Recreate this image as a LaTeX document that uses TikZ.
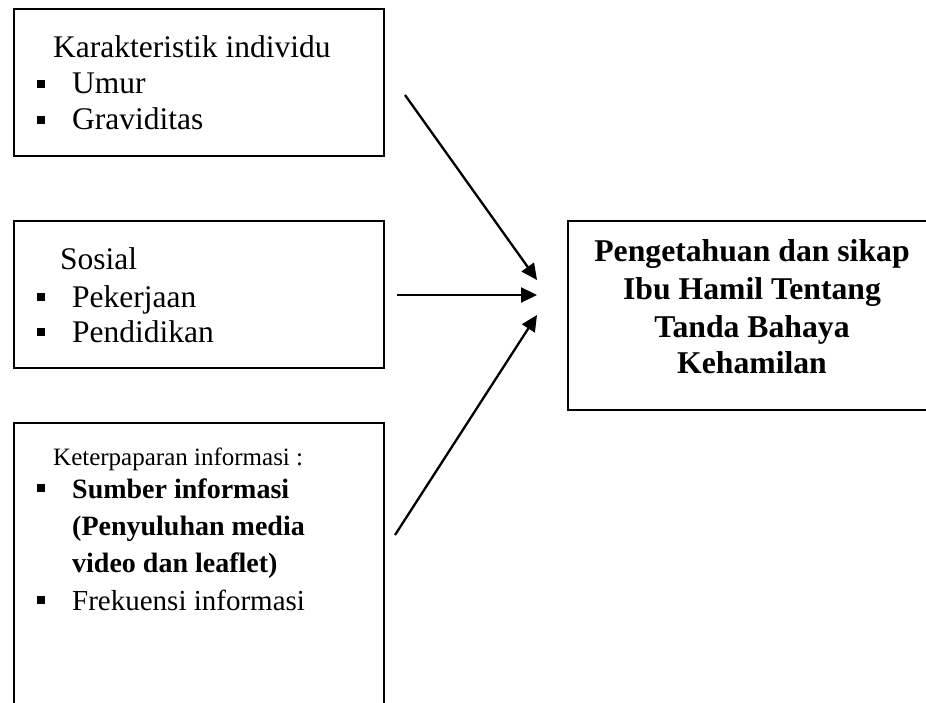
\documentclass[tikz,border=0pt]{standalone}
\usepackage{fontspec}
\setmainfont{Liberation Serif}
\usetikzlibrary{arrows.meta}
\tikzset{
  box/.style={draw=black, line width=2.3pt},
  txt/.style={anchor=base west, inner sep=0pt, font=\fontsize{31.5}{37}\selectfont},
  smalltxt/.style={anchor=base west, inner sep=0pt, font=\fontsize{25}{30}\selectfont},
  midtxt/.style={anchor=base west, inner sep=0pt, font=\fontsize{29}{35}\selectfont},
  boldtxt/.style={anchor=base west, inner sep=0pt, font=\fontsize{28}{35}\selectfont\bfseries},
  headtxt/.style={anchor=base, inner sep=0pt, font=\fontsize{31.7}{37}\selectfont\bfseries},
  bul/.style={fill=black, draw=none, minimum size=8.5pt, inner sep=0pt, rectangle},
  conn/.style={line width=2.3pt, -{Triangle[length=16pt,width=15pt]}}
}
\begin{document}
\begin{tikzpicture}[x=1pt,y=-1pt]
\useasboundingbox (0,0) rectangle (926,703);
\clip (0,0) rectangle (926,703);
% boxes
\node[box, minimum width=370pt, minimum height=147pt, anchor=north west] (b1) at (13,8) {};
\node[box, minimum width=370pt, minimum height=147pt, anchor=north west] (b2) at (13,220) {};
\node[box, minimum width=370pt, minimum height=300pt, anchor=north west] (b3) at (13,422) {};
\node[box, minimum width=373pt, minimum height=189pt, anchor=north west] (b4) at (567,220) {};
% box 1 text
\node[txt] (t1) at (53,58) {Karakteristik individu};
\node[bul] (u1) at (41,84) {};
\node[txt] (t1a) at (72,94) {Umur};
\node[bul] (u2) at (41,120) {};
\node[txt] (t1b) at (72,130) {Graviditas};
% box 2 text
\node[txt] (t2) at (60,270) {Sosial};
\node[bul] (u3) at (41,297) {};
\node[txt] (t2a) at (72,307) {Pekerjaan};
\node[bul] (u4) at (41,332) {};
\node[txt] (t2b) at (72,342) {Pendidikan};
% box 3 text
\node[smalltxt] (t3) at (53,465) {Keterpaparan informasi :};
\node[bul] (u5) at (41,488) {};
\node[boldtxt] (t3a) at (72,498) {Sumber informasi};
\node[boldtxt] (t3b) at (72,535) {(Penyuluhan media};
\node[boldtxt] (t3c) at (72,572) {video dan leaflet)};
\node[bul] (u6) at (41,600) {};
\node[midtxt] (t3d) at (72,610) {Frekuensi informasi};
% box 4 text
\node[headtxt] (h1) at (752,262) {Pengetahuan dan sikap};
\node[headtxt] (h2) at (752,300) {Ibu Hamil Tentang};
\node[headtxt] (h3) at (752,337) {Tanda Bahaya};
\node[headtxt] (h4) at (752,373) {Kehamilan};
% arrows
\coordinate (s1) at (405,95);
\coordinate (e1) at (537,280);
\coordinate (s2) at (397,295);
\coordinate (e2) at (537,295);
\coordinate (s3) at (395,535);
\coordinate (e3) at (537,315);
\draw[conn] (s1) -- (e1);
\draw[conn] (s2) -- (e2);
\draw[conn] (s3) -- (e3);
\end{tikzpicture}
\end{document}
